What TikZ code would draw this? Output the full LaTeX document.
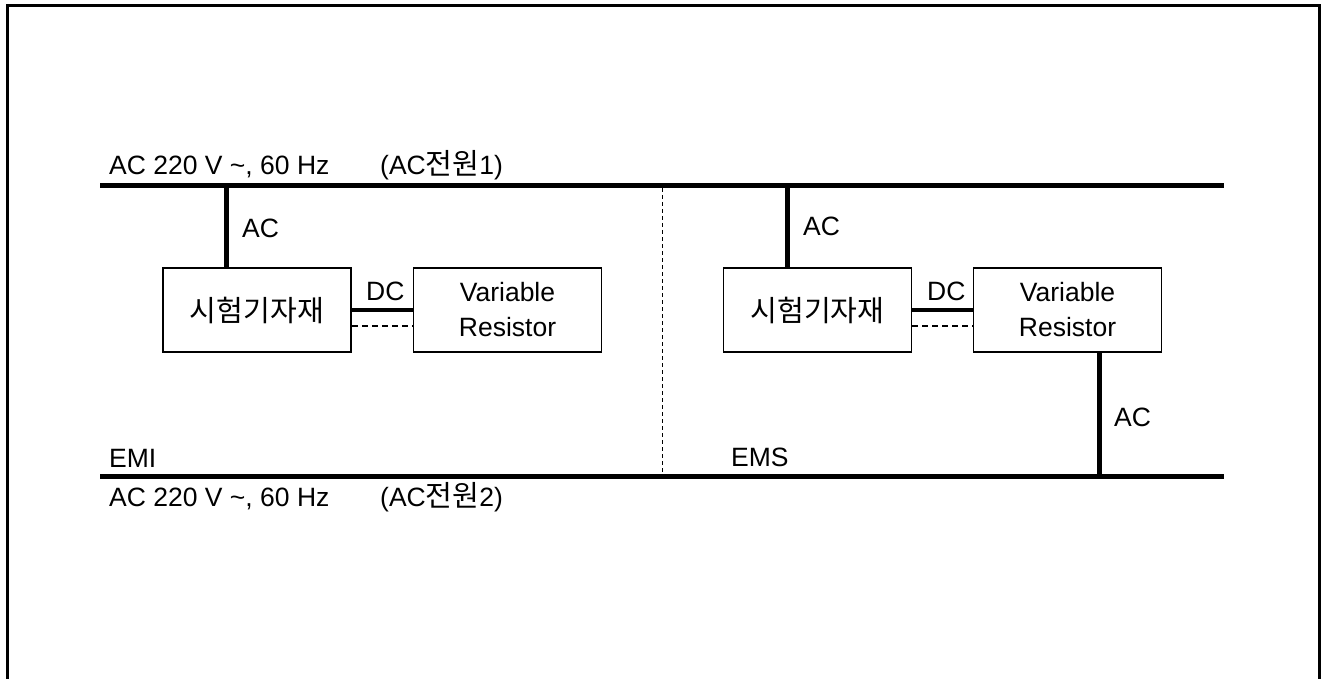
\documentclass[tikz,border=0pt]{standalone}
\usepackage{fontspec}
\setmainfont{Liberation Sans}
\newfontfamily\kr[Scale=1.1]{Noto Sans CJK KR}
\begin{document}
\begin{tikzpicture}[x=1pt,y=-1pt,
  lbl/.style={inner sep=0pt, anchor=base west, font=\fontsize{26.5}{35}\selectfont},
  box/.style={draw, line width=1.6pt, minimum width=188pt, minimum height=84pt, inner sep=0pt, align=center, font=\fontsize{26.5}{35}\selectfont},
  bus/.style={line width=5pt},
  dcline/.style={line width=4.5pt},
  thindash/.style={line width=1.2pt, dash pattern=on 6pt off 4pt},
  vdash/.style={line width=1pt, dash pattern=on 4pt off 3pt}]
\useasboundingbox (0,0) rectangle (1325,679);
\clip (0,0) rectangle (1325,679);
% outer frame
\draw[line width=3pt] (7,700) -- (7,6) -- (1319,6) -- (1319,700);
% buses
\coordinate (tl) at (100,185.5);
\coordinate (tr) at (1224,185.5);
\coordinate (bl) at (100,476);
\coordinate (br) at (1224,476);
\draw[bus] (tl) -- (tr);
\draw[bus] (bl) -- (br);
% divider
\coordinate (dtop) at (662,188);
\coordinate (dbot) at (662,473.5);
\draw[vdash] (dtop) -- (dbot);
% bus labels
\node[lbl] (t1) at (109,175) {AC 220 V \textasciitilde, 60 Hz};
\node[lbl] (t1b) at (380,175) {(AC{\kr 전원}1)};
\node[lbl] (t2) at (109,506) {AC 220 V \textasciitilde, 60 Hz};
\node[lbl] (t2b) at (380,506) {(AC{\kr 전원}2)};
\node[lbl] (emi) at (109,467) {EMI};
\node[lbl] (ems) at (731,466) {EMS};
% left group
\node[box] (b1) at (257,310) {{\kr 시험기자재}};
\node[box] (v1) at (507.5,310) {Variable\\Resistor};
\coordinate (a1) at (226,185.5);
\draw[bus] (a1) -- (a1 |- b1.north);
\node[lbl] (ac1) at (242,237) {AC};
\draw[dcline] (b1.east) -- (v1.west);
\draw[thindash] ([yshift=-16pt]b1.east) -- ([yshift=-16pt]v1.west);
\node[lbl] (dc1) at (366,300) {DC};
% right group
\node[box] (b2) at (817.5,310) {{\kr 시험기자재}};
\node[box] (v2) at (1067.5,310) {Variable\\Resistor};
\coordinate (a2) at (787,185.5);
\draw[bus] (a2) -- (a2 |- b2.north);
\node[lbl] (ac2) at (803,236) {AC};
\draw[dcline] (b2.east) -- (v2.west);
\draw[thindash] ([yshift=-16pt]b2.east) -- ([yshift=-16pt]v2.west);
\node[lbl] (dc2) at (927,300) {DC};
\coordinate (a3) at (1099,476);
\draw[bus] (a3 |- v2.south) -- (a3);
\node[lbl] (ac3) at (1114,426) {AC};
\end{tikzpicture}
\end{document}
